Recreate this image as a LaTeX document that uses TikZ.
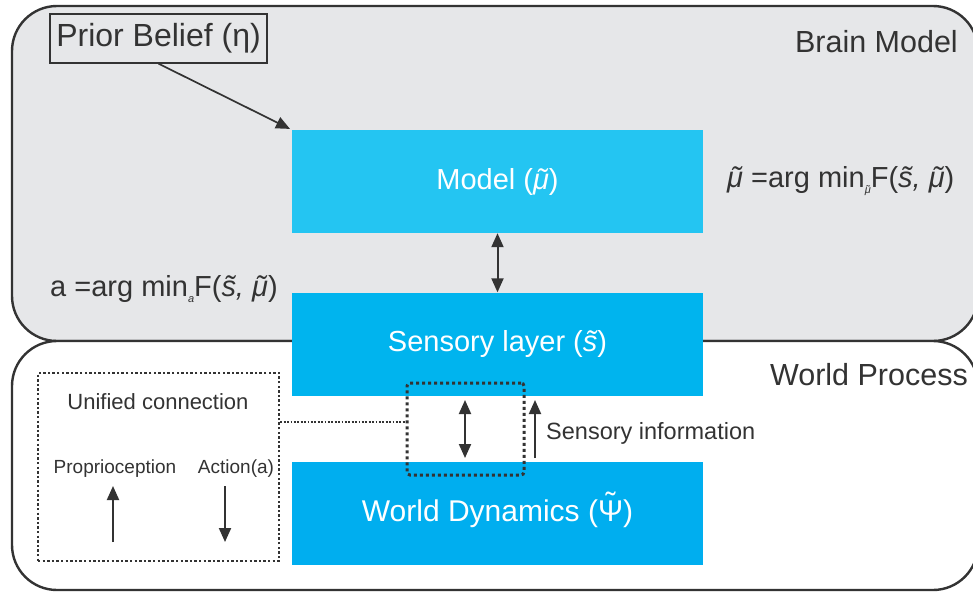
\documentclass[tikz,border=0pt]{standalone}
\usepackage{fontspec}
\setmainfont{Liberation Sans}
\usetikzlibrary{arrows.meta}

\definecolor{ink}{HTML}{333333}
\definecolor{panelgray}{HTML}{E6E7E9}
\definecolor{cyanA}{HTML}{24C5F2}
\definecolor{cyanB}{HTML}{00B4EE}
\definecolor{cyanC}{HTML}{00AEEF}

% a tilde set over a glyph; optional argument shifts it sideways / raises it
\newcommand{\tld}[2][0pt]{{\ooalign{#2\cr\hidewidth\kern#1\char"02DC\hidewidth\cr}}}
\newcommand{\tldup}[2][0.2em]{{\ooalign{#2\cr\hidewidth\raisebox{#1}{\char"02DC}\hidewidth\cr}}}
\newcommand{\fs}[1]{\fontsize{#1}{#1}\selectfont}

\begin{document}
\begin{tikzpicture}[x=1pt,y=-1pt,
  panel/.style={draw=ink, line width=2.4pt, rounded corners=45pt},
  layer/.style={inner sep=0pt, minimum width=411pt, minimum height=103pt,
                text=white, font=\fs{29}},
  lbl/.style={inner sep=0pt, text=ink},
  tip/.tip={Triangle[length=14pt,width=12pt]},
  arr/.style={draw=ink, line width=2pt, -tip},
  darr/.style={draw=ink, line width=2pt, tip-tip},
  dotbox/.style={draw=ink, line width=2.6pt, dash pattern=on 2.4pt off 2.2pt},
  dotbold/.style={draw=ink, line width=3pt, dash pattern=on 3pt off 3pt, rounded corners=3pt},
  dotthin/.style={draw=ink, line width=1.8pt, dash pattern=on 1.8pt off 1.6pt}]

\useasboundingbox (0,0) rectangle (973,592);

% the two panels
\begin{scope}
  \clip (0,0) rectangle (973,592);
  \draw[panel, fill=panelgray] (12,6) rectangle (978,341);
  \draw[panel, fill=white] (12,341) rectangle (978,590);
\end{scope}

% layers
\node[layer, fill=cyanA] (model) at (497.5,181.5) {Model (\itshape\tld[0.05em]{μ}\upshape)};
\node[layer, fill=cyanB] (sensory) at (497.5,344) {Sensory layer (\itshape\tld[0.05em]{s}\upshape)};
\node[layer, fill=cyanC, font=\fs{30}] (world) at (497.5,513.5) {World Dynamics (\tldup[0.25em]{Ψ})};

% prior belief
\node[draw=ink, line width=1.3pt, inner sep=0pt, minimum width=217pt,
      minimum height=49pt, text=ink, font=\fs{32}] (prior) at (158.5,38.5) {Prior Belief (η)};
\draw[arr, line width=1.7pt, shorten >=2pt] (prior.south) -- (model.north west);

% panel titles
\node[lbl, anchor=east, font=\fs{30.5}] (brain) at (958,42) {Brain Model};
\node[lbl, anchor=east, font=\fs{30.5}] (wproc) at (968,375) {World Process};

% update rules
\node[lbl, anchor=west, font=\fs{29}] (mueq) at (727,180)
  {\itshape\tld[0.05em]{μ}\upshape\ =arg min\raisebox{-0.2em}{\fs{11}\itshape\tld{μ}}F(\itshape\tld[0.05em]{s}, \tld[0.05em]{μ}\upshape)};
\node[lbl, anchor=west, font=\fs{29}] (aeq) at (50,289)
  {a =arg min\raisebox{-0.2em}{\fs{11}\itshape a}F(\itshape\tld[0.05em]{s}, \tld[0.05em]{μ}\upshape)};

% model <-> sensory
\draw[darr] (model.south) -- (sensory.north);

% unified connection
\node[dotbox, minimum width=241pt, minimum height=188pt, inner sep=0pt] (unified) at (158.5,467) {};
\node[lbl, font=\fs{22}] (ulbl) at (158,402) {Unified connection};
\node[lbl, font=\fs{19}] (prop) at (115,469) {Proprioception};
\node[lbl, font=\fs{19}] (act) at (236,469) {Action(a)};
\coordinate (pA) at (113,542);
\coordinate (pB) at (113,486);
\coordinate (aA) at (225,486);
\coordinate (aB) at (225,542);
\draw[arr] (pA) -- (pB);
\draw[arr] (aA) -- (aB);

% coupling between sensory layer and world
\node[dotbold, minimum width=117pt, minimum height=92pt, inner sep=0pt] (couple) at (465.5,429) {};
\draw[dotthin] (unified.east |- 0,422) -- (couple.west |- 0,422);
\coordinate (cA) at (465,400);
\coordinate (cB) at (465,458);
\draw[darr] (cA) -- (cB);

% sensory information
\coordinate (sA) at (535,458);
\coordinate (sB) at (535,400);
\draw[arr] (sA) -- (sB);
\node[lbl, anchor=west, font=\fs{23.5}] (sinfo) at (546,433) {Sensory information};

\end{tikzpicture}
\end{document}
